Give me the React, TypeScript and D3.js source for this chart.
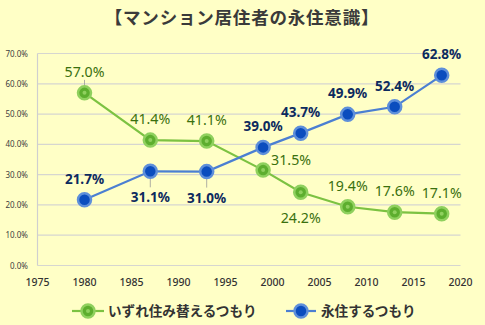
import React from "react";
import * as d3 from "d3";

const years = [1980, 1987, 1993, 1999, 2003, 2008, 2013, 2018];
const moveValues = [57.0, 41.4, 41.1, 31.5, 24.2, 19.4, 17.6, 17.1];
const stayValues = [21.7, 31.1, 31.0, 39.0, 43.7, 49.9, 52.4, 62.8];
const movePlacement = ["above", "above", "above", "right", "below", "above", "above", "above"];
const stayPlacement = ["above", "below", "below", "above", "above", "above", "above", "above"];
const yTicks = [0, 10, 20, 30, 40, 50, 60, 70];
const xTicks = [1975, 1980, 1985, 1990, 1995, 2000, 2005, 2010, 2015, 2020];
const seriesNames = ["いずれ住み替えるつもり", "永住するつもり"];
const title = "【マンション居住者の永住意識】";

const W = 485;
const H = 325;
const BG = "#FFFFC6";
const GREEN_LINE = "#7CC242";
const GREEN_RING = "#8FD05E";
const GREEN_FILL = "#5DAE2E";
const GREEN_TEXT = "#3A700E";
const BLUE_LINE = "#4B7FD2";
const BLUE_RING = "#5E8FDA";
const BLUE_FILL = "#0B4DBE";
const BLUE_TEXT = "#0C2A5E";
const JP = "'Noto Sans CJK JP', 'Noto Sans', sans-serif";
const NUM = "'Noto Sans', 'Open Sans', sans-serif";

export default function App() {
  const x = d3.scaleLinear().domain([1975, 2020]).range([37.5, 460.5]);
  const y = d3.scaleLinear().domain([0, 70]).range([265.5, 53.5]);
  const line = d3
    .line<number>()
    .x((_, i) => x(years[i]))
    .y((d) => y(d));

  const labelPos = (i: number, v: number, place: string) => {
    const px = x(years[i]);
    const py = y(v);
    if (place === "above") return { lx: px, ly: py - 16, lead: [py - 13, py - 7] };
    if (place === "below") return { lx: px, ly: py + 31, lead: [py + 7, py + 16] };
    return { lx: px + 28, ly: py - 5, lead: null };
  };

  const leaderFor = new Set(["m0", "s1", "s2"]);

  const marker = (cx: number, cy: number, ring: string, fill: string, key: string, green: boolean) => (
    <g key={key}>
      <circle cx={cx} cy={cy} r={6.5} fill={fill} stroke={ring} strokeWidth={2.5} />
      {green && <circle cx={cx} cy={cy} r={2} fill={GREEN_RING} />}
    </g>
  );

  return (
    <svg
      width={W}
      height={H}
      style={{ position: "absolute", left: 0, top: 0, display: "block" }}
    >
      <rect x={0} y={0} width={W} height={H} fill={BG} />
      <text
        x={242}
        y={24}
        textAnchor="middle"
        fontFamily={JP}
        fontWeight="bold"
        fontSize={17.5}
        fill="#3a3a3a"
        letterSpacing={0.8}
      >
        {title}
      </text>

      {yTicks.map((t) => (
        <g key={"y" + t}>
          <line x1={x(1975)} x2={x(2020)} y1={y(t)} y2={y(t)} stroke="#D6D6D0" strokeWidth={1.2} />
          <text
            x={28}
            y={y(t) + 3}
            textAnchor="end"
            fontFamily={NUM}
            fontSize={8}
            fill="#404040"
          >
            {t.toFixed(1)}%
          </text>
        </g>
      ))}
      <line x1={x(1975)} x2={x(1975)} y1={y(70)} y2={y(0)} stroke="#CFCFCF" strokeWidth={1.2} />

      {xTicks.map((t) => (
        <text
          key={"x" + t}
          x={x(t)}
          y={286}
          textAnchor="middle"
          fontFamily={NUM}
          fontSize={10.5}
          fontWeight={500}
          fill="#333"
        >
          {t}
        </text>
      ))}

      <path d={line(moveValues) || ""} fill="none" stroke={GREEN_LINE} strokeWidth={2.2} />
      <path d={line(stayValues) || ""} fill="none" stroke={BLUE_LINE} strokeWidth={2.2} />

      {moveValues.map((v, i) => {
        const p = labelPos(i, v, movePlacement[i]);
        return leaderFor.has("m" + i) && p.lead ? (
          <line key={"ml" + i} x1={x(years[i])} x2={x(years[i])} y1={p.lead[0]} y2={p.lead[1]} stroke="#9a9a9a" strokeWidth={0.8} />
        ) : null;
      })}
      {stayValues.map((v, i) => {
        const p = labelPos(i, v, stayPlacement[i]);
        return leaderFor.has("s" + i) && p.lead ? (
          <line key={"sl" + i} x1={x(years[i])} x2={x(years[i])} y1={p.lead[0]} y2={p.lead[1]} stroke="#9a9a9a" strokeWidth={0.8} />
        ) : null;
      })}

      {moveValues.map((v, i) => marker(x(years[i]), y(v), GREEN_RING, GREEN_FILL, "mm" + i, true))}
      {stayValues.map((v, i) => marker(x(years[i]), y(v), BLUE_RING, BLUE_FILL, "sm" + i, false))}

      {moveValues.map((v, i) => {
        const p = labelPos(i, v, movePlacement[i]);
        return (
          <text
            key={"mt" + i}
            x={p.lx}
            y={p.ly}
            textAnchor="middle"
            fontFamily={NUM}
            fontSize={14.2}
            fill={GREEN_TEXT}
          >
            {v.toFixed(1)}%
          </text>
        );
      })}
      {stayValues.map((v, i) => {
        const p = labelPos(i, v, stayPlacement[i]);
        return (
          <text
            key={"st" + i}
            x={p.lx}
            y={p.ly}
            textAnchor="middle"
            fontFamily={NUM}
            fontSize={13.5}
            fontWeight="bold"
            fill={BLUE_TEXT}
          >
            {v.toFixed(1)}%
          </text>
        );
      })}

      <g>
        <line x1={72} x2={104} y1={311} y2={311} stroke={GREEN_LINE} strokeWidth={2.2} />
        {marker(88, 311, GREEN_RING, GREEN_FILL, "lg0", true)}
        <text x={108} y={316} fontFamily={JP} fontWeight="bold" fontSize={13.6} fill="#333">
          {seriesNames[0]}
        </text>
        <line x1={286} x2={316} y1={311} y2={311} stroke={BLUE_LINE} strokeWidth={2.2} />
        {marker(301, 311, BLUE_RING, BLUE_FILL, "lg1", false)}
        <text x={321} y={316} fontFamily={JP} fontWeight="bold" fontSize={13.6} fill="#333">
          {seriesNames[1]}
        </text>
      </g>
    </svg>
  );
}
